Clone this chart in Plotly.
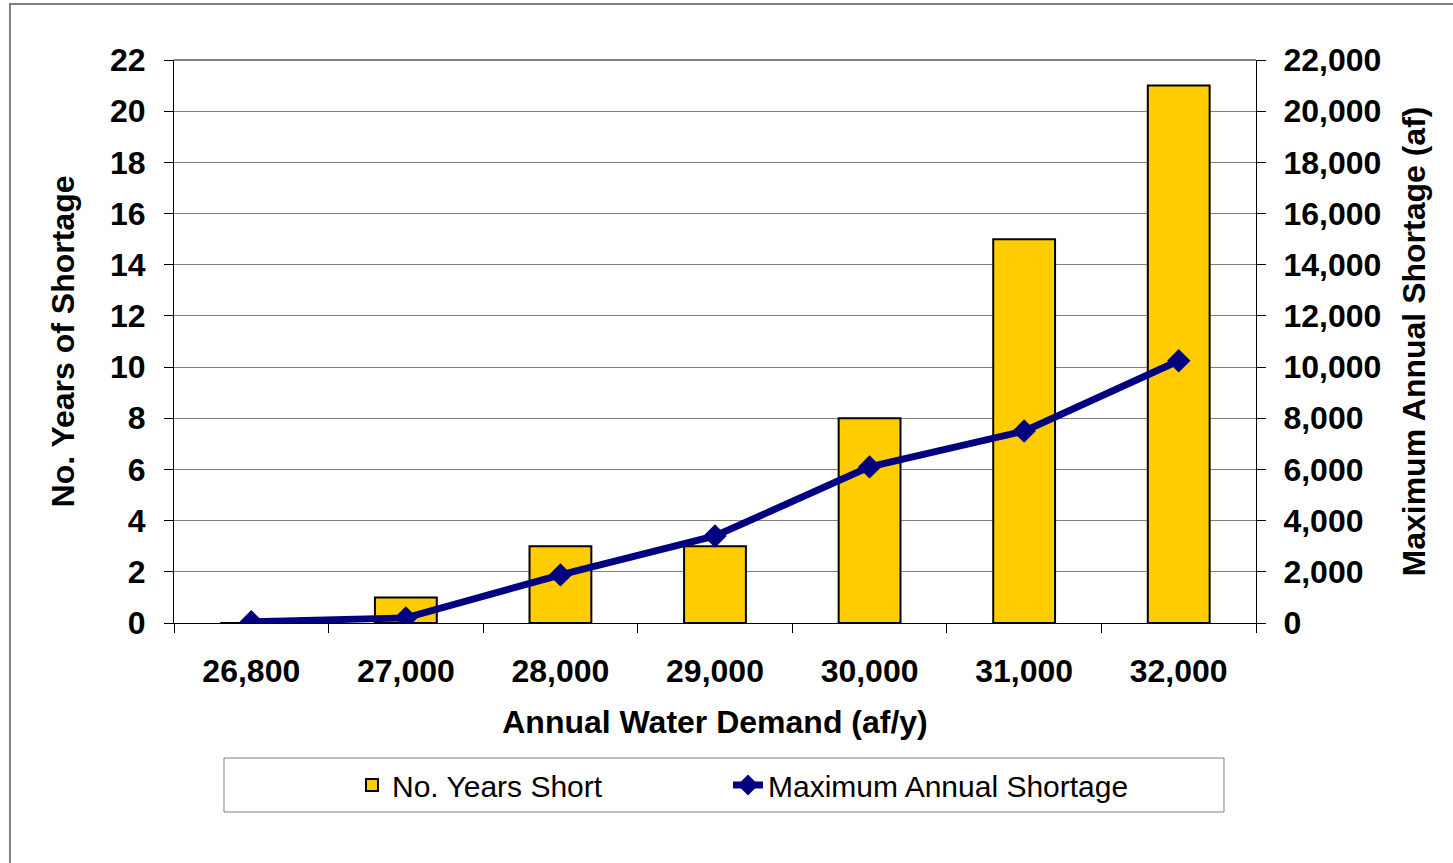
import plotly.graph_objects as go

# Annual water demand scenarios (af/y)
demand_labels = ["26,800", "27,000", "28,000", "29,000", "30,000", "31,000", "32,000"]
# Number of years with shortage for each demand level
years_short = [0, 1, 3, 3, 8, 15, 21]
# Maximum annual shortage (af) for each demand level
max_shortage = [50, 200, 1880, 3400, 6100, 7500, 10250]

left_ticks = list(range(0, 23, 2))
right_ticks = list(range(0, 22001, 2000))

FONT = "Liberation Sans, Arial, sans-serif"

fig = go.Figure()

fig.add_trace(go.Bar(
    x=demand_labels,
    y=years_short,
    name="No. Years Short",
    marker=dict(color="#FFCC00", line=dict(color="#000000", width=2)),
    width=0.4,
    yaxis="y",
    legend="legend",
))

fig.add_trace(go.Scatter(
    x=demand_labels,
    y=max_shortage,
    name="Maximum Annual Shortage",
    mode="lines+markers",
    line=dict(color="#000080", width=7),
    marker=dict(symbol="diamond", size=18, color="#000080"),
    yaxis="y2",
    legend="legend2",
))

legend_style = dict(
    orientation="h",
    xanchor="left",
    y=-0.2877,
    yanchor="middle",
    font=dict(family=FONT, size=30, color="black"),
    bgcolor="rgba(0,0,0,0)",
    borderwidth=0,
)

fig.update_layout(
    width=1453,
    height=863,
    margin=dict(l=174, r=197, t=60, b=240),
    paper_bgcolor="white",
    plot_bgcolor="white",
    font=dict(family=FONT, color="black", size=32),
    showlegend=True,
    xaxis=dict(
        type="category",
        tickson="boundaries",
        ticks="outside",
        ticklen=9,
        tickcolor="black",
        showline=True,
        linecolor="black",
        linewidth=1,
        showgrid=False,
        ticklabelstandoff=20,
        tickfont=dict(family=FONT, size=32, color="black", weight="bold"),
        title=dict(text="<b>Annual Water Demand (af/y)</b>",
                   font=dict(family=FONT, size=32, color="black"), standoff=22),
    ),
    yaxis=dict(
        range=[0, 22],
        tickvals=left_ticks,
        ticks="outside",
        ticklen=9,
        tickcolor="black",
        showline=True,
        linecolor="black",
        linewidth=1,
        showgrid=True,
        gridcolor="#808080",
        gridwidth=1,
        zeroline=False,
        ticklabelstandoff=12,
        tickfont=dict(family=FONT, size=32, color="black", weight="bold"),
        title=dict(text="<b>No. Years of Shortage</b>",
                   font=dict(family=FONT, size=32, color="black"), standoff=25),
    ),
    yaxis2=dict(
        range=[0, 22000],
        tickvals=right_ticks,
        tickformat=",",
        overlaying="y",
        side="right",
        ticks="outside",
        ticklen=9,
        tickcolor="black",
        showline=True,
        linecolor="black",
        linewidth=1,
        showgrid=False,
        zeroline=False,
        ticklabelstandoff=11,
        tickfont=dict(family=FONT, size=32, color="black", weight="bold"),
        title=dict(text="<b>Maximum Annual Shortage (af)</b>",
                   font=dict(family=FONT, size=32, color="black"), standoff=22),
    ),
    legend=dict(legend_style, x=0.1645),
    legend2=dict(legend_style, x=0.512),
    shapes=[
        # outer chart frame
        dict(type="rect", xref="paper", yref="paper",
             x0=-0.1516, x1=1.3, y0=-0.5, y1=1.0995,
             line=dict(color="#808080", width=2), layer="below"),
        # top border of plot area
        dict(type="line", xref="paper", yref="paper",
             x0=0, x1=1, y0=1, y1=1,
             line=dict(color="#808080", width=2)),
        # legend box
        dict(type="rect", xref="paper", yref="paper",
             x0=0.0462, x1=0.9704, y0=-0.3357, y1=-0.2398,
             line=dict(color="#808080", width=1)),
    ],
)

fig.write_html("out.html")
